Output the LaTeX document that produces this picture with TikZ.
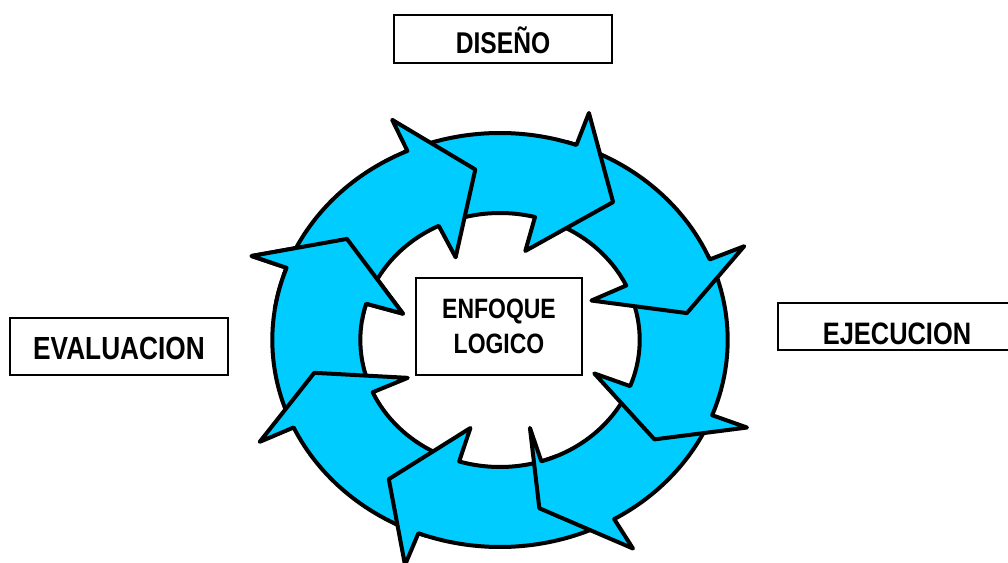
\documentclass[tikz,border=0pt]{standalone}
\usepackage{fontspec}
\setmainfont{Liberation Sans}[FakeStretch=0.82]
\definecolor{ringblue}{RGB}{0,204,255}
\tikzset{
  titlebox/.style={draw, line width=1.6pt, fill=white, inner sep=0pt, text depth=0pt},
  cyclearrow/.style={fill=ringblue, draw=black, line width=4pt, line join=round}
}
% tip angle, outer base angle, inner base angle, tail angle
\newcommand{\ringarrow}[4]{%
  (#4:207pt) arc[start angle=#4, end angle=#2, radius=207pt]
  -- (#2:241pt) -- (#1:172pt) -- (#3:92pt) -- (#3:127pt)
  arc[start angle=#3, end angle=#4, radius=127pt] -- cycle}
\begin{document}
\begin{tikzpicture}[x=1pt, y=1pt]
            \useasboundingbox (0,0) rectangle (1008,562);
            \begin{scope}[shift={(500,222)}, xscale=1.1]
                \foreach \t/\bo/\bi/\s in {144/159.6/163.4/204.7, -169/-155/-155.7/-109,
                                           -126/-111/-107/-66.4, -78/-59.9/-72.8/-21.3,
                                           -35.3/-21.3/-21.3/24.2, 9/22.9/25.4/73,
                                           53.3/70.4/75.5/115, 97.5/114/116/161.5}
                    \draw[cyclearrow] \ringarrow{\t}{\bo}{\bi}{\s};
                \begin{scope}
                    \clip (0,0) -- (136:400pt) -- (153.7:400pt) -- (171.4:400pt) -- cycle;
                    \draw[cyclearrow] \ringarrow{144}{159.6}{163.4}{204.7};
                \end{scope}
            \end{scope}

            \node[titlebox, minimum width=166pt, minimum height=97pt, line width=1.3pt, align=center,
                  font=\bfseries\fontsize{28}{35}\selectfont] (enfoque) at (499,235.5) {ENFOQUE\\LOGICO};

            \node[titlebox, minimum width=218pt, minimum height=48pt, text height=28.5pt,
                  font=\bfseries\fontsize{30}{36}\selectfont] (diseno) at (503,523) {DISEÑO};
            \node[titlebox, minimum width=218pt, minimum height=57pt, text height=26.9pt,
                  font=\bfseries\fontsize{32}{38}\selectfont] (evaluacion) at (119,215.5) {EVALUACION};
            \node[titlebox, minimum width=238pt, minimum height=47pt, text height=35.2pt,
                  font=\bfseries\fontsize{31}{37}\selectfont] (ejecucion) at (897,235.5) {EJECUCION};
        \end{tikzpicture}
\end{document}
